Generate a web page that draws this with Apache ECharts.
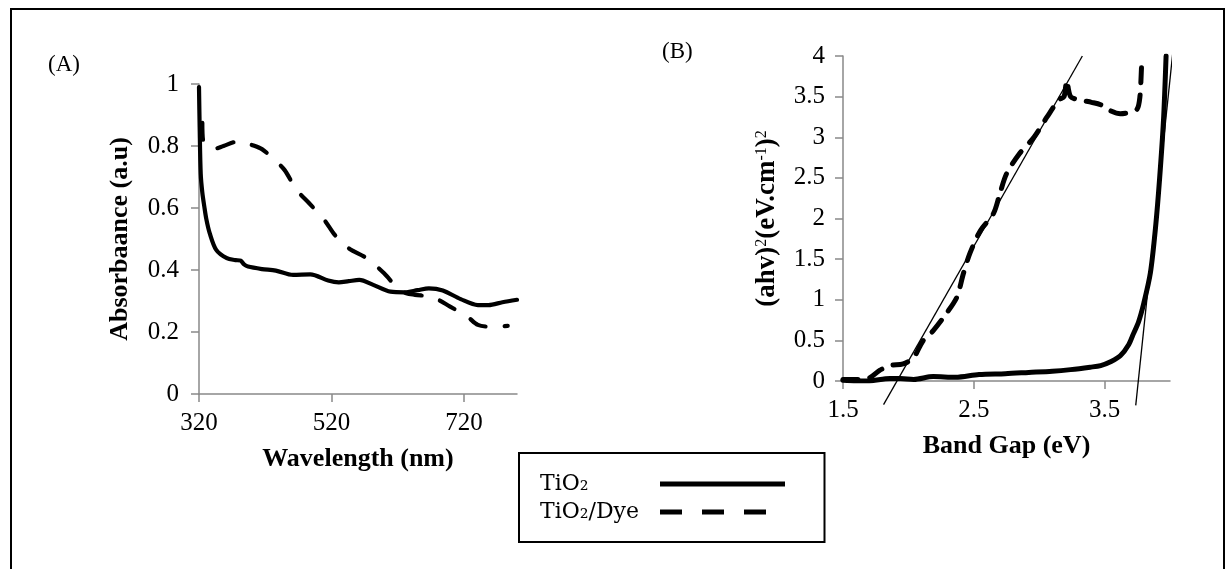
<!DOCTYPE html>
<html>
<head>
<meta charset="utf-8">
<script src="https://cdn.jsdelivr.net/npm/echarts@6/dist/echarts.min.js"></script>
<style>
  html, body { margin: 0; padding: 0; background: #fff; }
  #chart { width: 1230px; height: 569px; }
</style>
</head>
<body>
<div id="chart"></div>
<script>
// (A) UV-Vis absorbance spectra
const wavelengthTiO2 = [320, 321, 322.6, 325, 328, 331, 336, 346, 362, 375, 383, 388, 394, 415, 436, 462, 488, 515, 531, 546, 562, 583, 609, 630, 650, 667, 688, 715, 741, 757, 778, 800];
const absorbanceTiO2 = [0.99, 0.86, 0.71, 0.65, 0.605, 0.565, 0.52, 0.465, 0.438, 0.432, 0.430, 0.418, 0.411, 0.403, 0.398, 0.384, 0.386, 0.366, 0.360, 0.364, 0.368, 0.352, 0.330, 0.328, 0.335, 0.341, 0.334, 0.306, 0.287, 0.287, 0.296, 0.304];

const wavelengthDye = [325, 326, 332, 341, 357, 372, 383, 399, 415, 431, 449, 467, 486, 509, 525, 546, 573, 599, 620, 633, 646, 673, 699, 725, 741, 762, 786];
const absorbanceDye = [0.875, 0.82, 0.80, 0.79, 0.80, 0.812, 0.815, 0.804, 0.79, 0.761, 0.723, 0.659, 0.616, 0.562, 0.513, 0.470, 0.438, 0.390, 0.341, 0.325, 0.320, 0.312, 0.282, 0.250, 0.223, 0.217, 0.220];

// (B) Tauc plot
const energyTiO2 = [1.5, 1.6, 1.685, 1.86, 1.94, 2.04, 2.19, 2.36, 2.54, 2.74, 2.92, 3.10, 3.24, 3.39, 3.47, 3.55, 3.62, 3.685, 3.72, 3.76, 3.80, 3.85, 3.89, 3.92, 3.95, 3.97];
const taucTiO2 = [0.01, 0.0, 0.0, 0.03, 0.03, 0.02, 0.055, 0.045, 0.08, 0.09, 0.105, 0.12, 0.14, 0.17, 0.19, 0.24, 0.31, 0.45, 0.58, 0.73, 0.96, 1.33, 1.90, 2.48, 3.2, 4.0];

const energyDye = [1.5, 1.6, 1.655, 1.706, 1.78, 1.86, 1.96, 2.04, 2.11, 2.19, 2.29, 2.37, 2.42, 2.47, 2.55, 2.65, 2.70, 2.75, 2.85, 2.96, 3.06, 3.15, 3.19, 3.21, 3.24, 3.31, 3.40, 3.47, 3.54, 3.62, 3.70, 3.75, 3.77, 3.78, 3.785];
const taucDye = [0.02, 0.02, 0.02, 0.04, 0.13, 0.19, 0.21, 0.29, 0.49, 0.62, 0.83, 1.03, 1.32, 1.57, 1.85, 2.06, 2.31, 2.55, 2.80, 3.00, 3.25, 3.46, 3.50, 3.70, 3.50, 3.46, 3.43, 3.40, 3.33, 3.29, 3.31, 3.35, 3.50, 3.78, 4.0];

// Linear extrapolations used to read the band gap
const tangentDyeEnergy = [1.81, 3.33];
const tangentDyeTauc = [-0.29, 4.0];
const tangentTiO2Energy = [3.738, 4.02];
const tangentTiO2Tauc = [-0.30, 4.02];

// Tick labels
const wavelengthTicks = [320, 520, 720];
const energyTicks = [1.5, 2.5, 3.5];

const SERIF = '"Liberation Serif", "Times New Roman", serif';
const AXIS_COLOR = '#898989';

const zip = (xs, ys) => xs.map((x, i) => [x, ys[i]]);

function axisBase(extra) {
  return Object.assign({
    type: 'value',
    nameLocation: 'middle',
    nameTextStyle: { fontFamily: SERIF, fontSize: 26, fontWeight: 'bold', color: '#000' },
    axisLine: { show: true, lineStyle: { color: AXIS_COLOR, width: 1.5 } },
    axisTick: { show: true, length: 8, lineStyle: { color: AXIS_COLOR, width: 1.5 } },
    axisLabel: { fontFamily: SERIF, fontSize: 25, color: '#000' },
    splitLine: { show: false }
  }, extra);
}

const chart = echarts.init(document.getElementById('chart'), null, { renderer: 'canvas' });

chart.setOption({
  backgroundColor: '#fff',
  animation: false,
  title: [
    { text: '(A)', left: 48, top: 53, padding: 0,
      textStyle: { fontFamily: SERIF, fontSize: 23, fontWeight: 'normal', color: '#000' } },
    { text: '(B)', left: 662, top: 40, padding: 0,
      textStyle: { fontFamily: SERIF, fontSize: 23, fontWeight: 'normal', color: '#000' } }
  ],
  graphic: [
    { type: 'rect', silent: true, shape: { x: 11, y: 9, width: 1213, height: 620 },
      style: { fill: 'none', stroke: '#000', lineWidth: 2 } }
  ],
  legend: {
    orient: 'vertical',
    left: 519,
    top: 453,
    align: 'right',
    selectedMode: false,
    padding: [20, 37, 19, 21],
    itemGap: 6,
    itemWidth: 125,
    itemHeight: 26,
    borderColor: '#000',
    borderWidth: 2,
    formatter: name => '{t|' + name + '}',
    textStyle: {
      rich: {
        t: { width: 115, align: 'left', lineHeight: 26, fontFamily: '"DejaVu Serif", serif', fontSize: 22, color: '#000' }
      }
    },
    itemStyle: { color: 'rgba(0,0,0,0)', borderColor: 'rgba(0,0,0,0)', borderWidth: 0 },
    data: [
      { name: 'TiO₂', lineStyle: { color: '#000', width: 5, type: 'solid', cap: 'butt' } },
      { name: 'TiO₂/Dye', lineStyle: { color: '#000', width: 5, type: [22, 20], cap: 'butt' } }
    ]
  },
  grid: [
    { left: 199, top: 84, width: 318, height: 310 },
    { left: 843, top: 56, width: 327, height: 325 }
  ],
  xAxis: [
    axisBase({
      gridIndex: 0, min: 320, max: 800, interval: 200,
      name: 'Wavelength (nm)', nameGap: 52,
      axisTick: { show: true, length: 8, customValues: wavelengthTicks, lineStyle: { color: AXIS_COLOR, width: 1.5 } },
      axisLabel: { customValues: wavelengthTicks, fontFamily: SERIF, fontSize: 25, color: '#000', margin: 17 }
    }),
    axisBase({
      gridIndex: 1, min: 1.5, max: 4, interval: 1,
      name: 'Band Gap (eV)', nameGap: 52,
      axisTick: { show: true, length: 8, customValues: energyTicks, lineStyle: { color: AXIS_COLOR, width: 1.5 } },
      axisLabel: { customValues: energyTicks, fontFamily: SERIF, fontSize: 25, color: '#000', margin: 17 }
    })
  ],
  yAxis: [
    axisBase({
      gridIndex: 0, min: 0, max: 1, interval: 0.2,
      name: 'Absorbaance (a.u)', nameGap: 66,
      axisLabel: { fontFamily: SERIF, fontSize: 25, color: '#000', margin: 20 }
    }),
    axisBase({
      gridIndex: 1, min: 0, max: 4, interval: 0.5,
      name: '{b|(ahv)}{s|2}{b|(eV.cm}{s|-1}{b|)}{s|2}', nameGap: 62,
      nameTextStyle: {
        fontFamily: SERIF, fontSize: 26, fontWeight: 'bold', color: '#000',
        rich: {
          b: { fontFamily: SERIF, fontSize: 27, fontWeight: 'bold', color: '#000', verticalAlign: 'bottom' },
          s: { fontFamily: SERIF, fontSize: 16, fontWeight: 'normal', color: '#000', verticalAlign: 'top' }
        }
      },
      axisLabel: { fontFamily: SERIF, fontSize: 25, color: '#000', margin: 18 }
    })
  ],
  series: [
    {
      name: 'TiO₂', type: 'line', xAxisIndex: 0, yAxisIndex: 0,
      data: zip(wavelengthTiO2, absorbanceTiO2),
      symbol: 'none', smooth: 0.3,
      lineStyle: { color: '#000', width: 4.2, cap: 'round', join: 'round' }
    },
    {
      name: 'TiO₂/Dye', type: 'line', xAxisIndex: 0, yAxisIndex: 0,
      data: zip(wavelengthDye, absorbanceDye),
      symbol: 'none', smooth: 0.3,
      lineStyle: { color: '#000', width: 4.2, type: [17, 19], cap: 'round', join: 'round' }
    },
    {
      name: 'TiO₂', type: 'line', xAxisIndex: 1, yAxisIndex: 1,
      data: zip(energyTiO2, taucTiO2),
      symbol: 'none', smooth: 0.3,
      lineStyle: { color: '#000', width: 5, cap: 'round', join: 'round' }
    },
    {
      name: 'TiO₂/Dye', type: 'line', xAxisIndex: 1, yAxisIndex: 1,
      data: zip(energyDye, taucDye),
      symbol: 'none', smooth: 0.3,
      lineStyle: { color: '#000', width: 5, type: [15, 12], cap: 'round', join: 'round' }
    },
    {
      name: 'TiO₂/Dye tangent', type: 'line', xAxisIndex: 1, yAxisIndex: 1,
      data: zip(tangentDyeEnergy, tangentDyeTauc),
      symbol: 'none', clip: false,
      lineStyle: { color: '#000', width: 1.3 }
    },
    {
      name: 'TiO₂ tangent', type: 'line', xAxisIndex: 1, yAxisIndex: 1,
      data: zip(tangentTiO2Energy, tangentTiO2Tauc),
      symbol: 'none', clip: false,
      lineStyle: { color: '#000', width: 1.3 }
    }
  ]
});
</script>
</body>
</html>
